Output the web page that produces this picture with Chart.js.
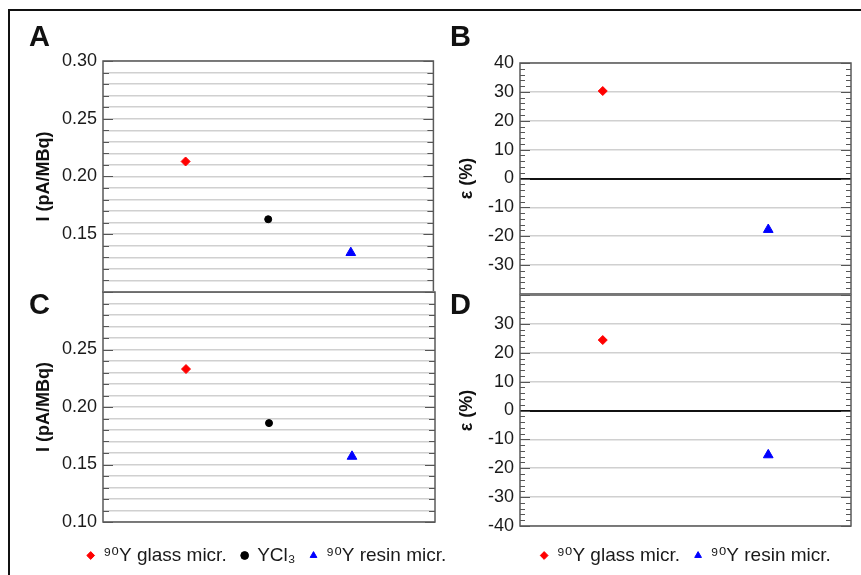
<!DOCTYPE html>
<html>
<head>
<meta charset="utf-8">
<script src="https://cdn.jsdelivr.net/npm/chart.js@4.4.0/dist/chart.umd.min.js"></script>
<style>
  html, body { margin: 0; padding: 0; background: #fff; overflow: hidden; width: 861px; height: 575px; }
  #frame { position: absolute; left: 8px; top: 9px; width: 900px; height: 600px; border-left: 2px solid #111; border-top: 2px solid #111; }
  canvas { position: absolute; }
  .letter { position: absolute; font: bold 29px "Liberation Sans", Arial, sans-serif; line-height: 29px; color: #111; }
</style>
</head>
<body>
<div id="frame"></div>
<canvas id="chartA" width="440" height="320" style="left:0;top:0"></canvas>
<canvas id="chartB" width="431" height="320" style="left:430px;top:0"></canvas>
<canvas id="chartC" width="521" height="305" style="left:0;top:270px"></canvas>
<canvas id="chartD" width="512" height="305" style="left:430px;top:270px"></canvas>
<div class="letter" style="left:29px;top:22px">A</div>
<div class="letter" style="left:450px;top:22px">B</div>
<div class="letter" style="left:29px;top:290px">C</div>
<div class="letter" style="left:450px;top:290px">D</div>
<script>
// data
const categories = ['⁹⁰Y glass micr.', 'YCl₃', '⁹⁰Y resin micr.'];
const currentA = [0.213, 0.163, 0.134];   // pA/MBq
const currentC = [0.233, 0.186, 0.157];
const errorCategories = ['⁹⁰Y glass micr.', '⁹⁰Y resin micr.'];
const errorB = [30.3, -17.7];             // %
const errorD = [24.4, -15.4];

// tick labels shown on each panel
const labelsA = ['0.15', '0.20', '0.25', '0.30'];
const labelsC = ['0.10', '0.15', '0.20', '0.25'];
const labelsB = ['-30', '-20', '-10', '0', '10', '20', '30', '40'];
const labelsD = ['-40', '-30', '-20', '-10', '0', '10', '20', '30'];

const markerStyles = {
  '⁹⁰Y glass micr.': { shape: 'rectRot', color: '#ff0000', radius: 4.5 },
  'YCl₃': { shape: 'circle', color: '#000000', radius: 3.5 },
  '⁹⁰Y resin micr.': { shape: 'triangle', color: '#0000ff', radius: 5.6 }
};

Chart.defaults.font.family = "'Liberation Sans', Arial, Helvetica, sans-serif";
Chart.defaults.color = '#1a1a1a';

// box + inward tick marks on both sides
const frameTicks = {
  id: 'frameTicks',
  beforeDatasetsDraw(chart, args, opts) {
    const { ctx, chartArea: a, scales: { y } } = chart;
    ctx.save();
    ctx.strokeStyle = '#555';
    ctx.lineWidth = 1;
    y.ticks.forEach(t => {
      const r = t.value / opts.majorStep;
      const len = Math.abs(r - Math.round(r)) < 1e-6 ? opts.majorLen : opts.minorLen;
      const py = Math.round(y.getPixelForValue(t.value)) + 0.5;
      ctx.beginPath();
      ctx.moveTo(a.left, py); ctx.lineTo(a.left + len, py);
      ctx.moveTo(a.right, py); ctx.lineTo(a.right - len, py);
      ctx.stroke();
    });
    ctx.lineWidth = 1.5;
    ctx.strokeStyle = '#5a5a5a';
    ctx.strokeRect(a.left, a.top, a.right - a.left, a.bottom - a.top);
    ctx.restore();
  }
};

function buildDatasets(names, values) {
  return names.map((name, i) => {
    const s = markerStyles[name];
    return {
      label: name,
      data: [{ x: categories.indexOf(name) + 1, y: values[i] }],
      pointStyle: s.shape,
      pointRadius: s.radius,
      pointHoverRadius: s.radius,
      backgroundColor: s.color,
      borderColor: s.color,
      borderWidth: 1
    };
  });
}

function makePanel(id, cfg) {
  const isCurrent = cfg.kind === 'current';
  const step = isCurrent ? 0.01 : 2;
  const majorStep = isCurrent ? 0.05 : 10;
  const fmt = v => isCurrent ? v.toFixed(2) : String(Math.round(v));

  const scales = {
    x: {
      type: 'linear', min: 0, max: 4,
      display: !!cfg.legend,
      grid: { display: false }, border: { display: false }, ticks: { display: false },
      afterFit: s => { s.height = cfg.xHeight || 0; }
    },
    y: {
      min: cfg.min, max: cfg.max,
      afterBuildTicks: s => {
        const t = [];
        for (let k = 0; ; k++) {
          const v = cfg.min + k * step;
          if (v > cfg.max + step / 1000) break;
          t.push({ value: +v.toFixed(4) });
        }
        s.ticks = t;
      },
      ticks: {
        autoSkip: false, padding: 6, font: { size: 18 }, color: '#1a1a1a',
        callback: v => cfg.labels.includes(fmt(v)) ? fmt(v) : ''
      },
      grid: {
        drawTicks: false,
        color: c => {
          const v = c.tick.value;
          if (isCurrent) return '#d0d0d0';
          if (Math.abs(v) < 1e-9) return '#111';
          return Math.abs(v % 10) < 1e-9 ? '#d0d0d0' : 'rgba(0,0,0,0)';
        },
        lineWidth: c => (!isCurrent && Math.abs(c.tick.value) < 1e-9) ? 2 : 1.6
      },
      border: { display: false },
      title: {
        display: true, text: cfg.title, color: '#111',
        font: { size: 18, weight: 'bold' },
        padding: { top: cfg.titlePad, bottom: 0 }
      },
      afterFit: s => { s.width = 90; }
    }
  };
  if (cfg.rightWidth) {
    scales.y2 = {
      position: 'right', min: cfg.min, max: cfg.max,
      grid: { display: false }, border: { display: false }, ticks: { display: false },
      afterFit: s => { s.width = cfg.rightWidth; }
    };
  }

  return new Chart(document.getElementById(id), {
    type: 'scatter',
    data: { datasets: buildDatasets(cfg.names, cfg.values) },
    plugins: [frameTicks],
    options: {
      responsive: false,
      animation: false,
      layout: { padding: cfg.padding },
      scales: scales,
      plugins: {
        tooltip: { enabled: false },
        frameTicks: { majorStep: majorStep, majorLen: 10, minorLen: isCurrent ? 6 : 5 },
        legend: cfg.legend ? {
          display: true, position: 'bottom',
          labels: {
            usePointStyle: true, boxWidth: 6, boxHeight: 5.5, padding: 15,
            font: { size: 19, family: "'Liberation Sans', 'DejaVu Sans', sans-serif" },
            color: '#1a1a1a'
          }
        } : { display: false }
      }
    }
  });
}

makePanel('chartA', {
  kind: 'current', names: categories, values: currentA, labels: labelsA,
  min: 0.10, max: 0.30, title: 'I (pA/MBq)', titlePad: 20,
  padding: { left: 13, top: 61, right: 5, bottom: 28 }
});
makePanel('chartB', {
  kind: 'error', names: errorCategories, values: errorB, labels: labelsB,
  min: -40, max: 40, title: 'ε (%)', titlePad: 26,
  padding: { left: 0, top: 63, right: 10, bottom: 26 }
});
makePanel('chartC', {
  kind: 'current', names: categories, values: currentC, labels: labelsC,
  min: 0.10, max: 0.30, title: 'I (pA/MBq)', titlePad: 20,
  padding: { left: 13, top: 22, right: 0, bottom: 0 },
  legend: true, xHeight: 9, rightWidth: 86
});
makePanel('chartD', {
  kind: 'error', names: errorCategories, values: errorD, labels: labelsD,
  min: -40, max: 40, title: 'ε (%)', titlePad: 26,
  padding: { left: 0, top: 25, right: 0, bottom: 0 },
  legend: true, xHeight: 5, rightWidth: 91
});
</script>
</body>
</html>
